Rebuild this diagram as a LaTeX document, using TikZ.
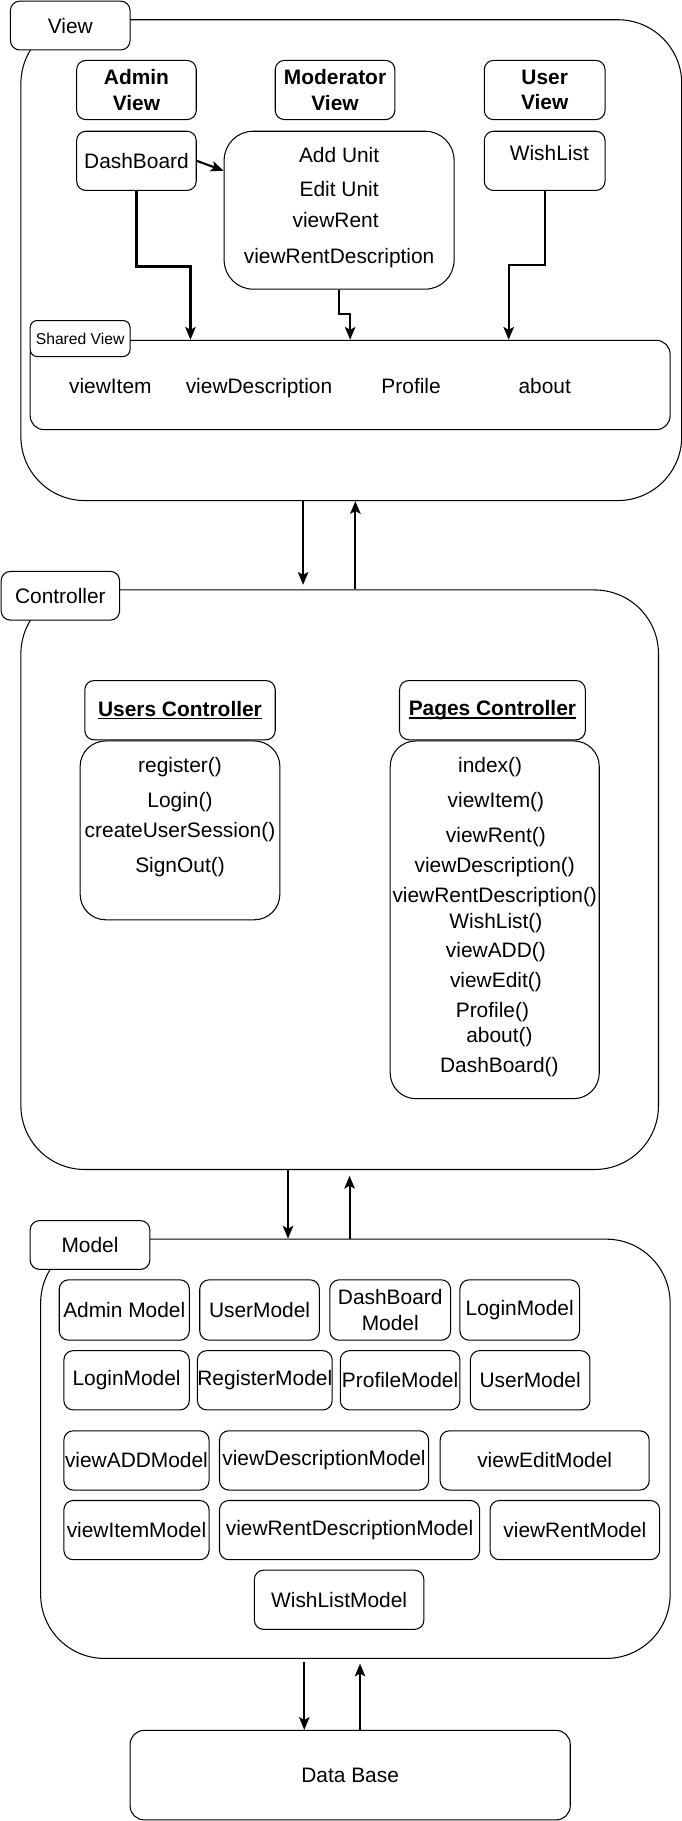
\documentclass[tikz,border=0pt]{standalone}
\usepackage{fontspec}
\setmainfont{Liberation Sans}
\usetikzlibrary{arrows.meta}
\newcommand\ulbf[1]{\setbox0\hbox{\bfseries #1}\rlap{\rule[-2.8pt]{\wd0}{1.3pt}}\box0}
\begin{document}
\begin{tikzpicture}[x=1pt,y=-1pt,
 box/.style={draw, line width=0.9pt, rounded corners=8pt, fill=white, inner sep=0pt, align=center, font=\fontsize{18}{22}\selectfont},
 hbox/.style={box, font=\fontsize{18}{22}\selectfont\bfseries},
 big/.style={draw, line width=0.9pt, rounded corners=55pt, inner sep=0pt},
 lbl/.style={inner sep=0pt, font=\fontsize{18}{22}\selectfont, text height=13pt, text depth=0pt},
 arr/.style={line width=1.8pt, -{Stealth[length=11pt,width=9pt,inset=2.5pt]}},
 sz/.style 2 args={minimum width=#1pt, minimum height=#2pt},
]
\useasboundingbox (0,0) rectangle (587,1568);

% ---------------- View ----------------
\node[big, sz={569}{414}] (viewc) at (302.5,224) {};
\node[box, sz={103}{42}] (viewtab) at (60.5,22) {View};
\node[hbox, sz={103}{51}] (admin) at (117.5,77.5) {Admin\\View};
\node[hbox, sz={103}{51}] (moder) at (288.5,77.5) {Moderator\\View};
\node[hbox, sz={104}{51}] (user) at (469,77.5) {User\\View};
\node[box, sz={103}{51}] (dash) at (117.5,138.5) {DashBoard};
\node[box, rounded corners=25pt, sz={198}{136}] (mod) at (292,181) {};
\node[lbl] (m1) at (292,133) {Add Unit};
\node[lbl] (m2) at (292,163) {Edit Unit};
\node[lbl] (m3) at (289,189) {viewRent};
\node[lbl] (m4) at (292,220) {viewRentDescription};
\node[box, sz={104}{51}] (wish) at (469,138.5) {};
\node[lbl] (wisht) at (473,132) {WishList};
\node[box, rounded corners=12pt, sz={551}{77}] (shared) at (301.5,331.5) {};
\node[box, rounded corners=6pt, sz={86}{31}, font=\fontsize{13.5}{16}\selectfont] (sharedtab) at (69,291.5) {Shared View};
\node[lbl] (s1) at (95,332) {viewItem};
\node[lbl] (s2) at (223,332) {viewDescription};
\node[lbl] (s3) at (354,332) {Profile};
\node[lbl] (s4) at (469,332) {about};

\draw[arr] (dash.east) -- ([yshift=34pt]mod.west);
\draw[arr] (dash.south) -- ++(0,65) -| ([xshift=-137.5pt]shared.north);
\draw[arr] (mod.south) -- ++(0,21) -| (shared.north);
\draw[arr] (wish.south) -- ++(0,64) -| ([xshift=136.5pt]shared.north);

% ---------------- Controller ----------------
\node[big, sz={549}{499}] (ctrl) at (292.5,757.5) {};
\node[box, sz={102}{42}] (ctrltab) at (52,513) {Controller};
\node[box, rounded corners=22pt, sz={172}{154}] (ubody) at (155,715) {};
\node[box, sz={164}{51}] (uhead) at (155,611.5) {\ulbf{Users Controller}};
\node[lbl] (u1) at (155,659) {register()};
\node[lbl] (u2) at (155,689) {Login()};
\node[lbl] (u3) at (155,715) {createUserSession()};
\node[lbl] (u4) at (155,745) {SignOut()};
\node[box, rounded corners=22pt, sz={180}{308}] (pbody) at (426,792) {};
\node[box, sz={160}{51}] (phead) at (424,611.5) {\ulbf{Pages Controller}};
\node[lbl] (p1) at (422,659) {index()};
\node[lbl] (p2) at (427,689) {viewItem()};
\node[lbl] (p3) at (427,719) {viewRent()};
\node[lbl] (p4) at (426,745) {viewDescription()};
\node[lbl] (p5) at (426,771) {viewRentDescription()};
\node[lbl] (p6) at (427,793) {WishList()};
\node[lbl] (p7) at (427,818) {viewADD()};
\node[lbl] (p8) at (427,844) {viewEdit()};
\node[lbl] (p9) at (424,870) {Profile()};
\node[lbl] (p10) at (430,891) {about()};
\node[lbl] (p11) at (430,917) {DashBoard()};

% ---------------- Model ----------------
\node[big, sz={542}{361}] (modelc) at (306,1247.5) {};
\node[box, sz={103}{42}] (modeltab) at (77.5,1072) {Model};
\node[box, sz={112}{52}] (a1) at (107,1128) {Admin Model};
\node[box, sz={103}{52}] (a2) at (223.5,1128) {UserModel};
\node[box, sz={104}{52}] (a3) at (336,1128) {DashBoard\\[1pt]Model};
\node[box, sz={103}{52}] (a4) at (447.5,1128) {LoginModel};
\node[box, sz={108}{51}] (b1) at (109,1188.5) {LoginModel};
\node[box, sz={112}{51}] (b2) at (228,1188.5) {RegisterModel};
\node[box, sz={103}{51}] (b3) at (344.5,1188.5) {ProfileModel};
\node[box, sz={103}{51}] (b4) at (456.5,1188.5) {UserModel};
\node[box, sz={125}{51}] (c1) at (117.5,1257.5) {viewADDModel};
\node[box, sz={180}{51}] (c2) at (279,1257.5) {viewDescriptionModel};
\node[box, sz={180}{51}] (c3) at (469,1257.5) {viewEditModel};
\node[box, sz={125}{51}] (d1) at (117.5,1317.5) {viewItemModel};
\node[box, sz={224}{51}] (d2) at (301,1317.5) {viewRentDescriptionModel};
\node[box, sz={146}{51}] (d3) at (495,1317.5) {viewRentModel};
\node[box, sz={146}{51}] (e1) at (292,1377.5) {WishListModel};

% ---------------- Data Base ----------------
\node[box, rounded corners=12pt, sz={379}{77}] (db) at (301.5,1528.5) {Data Base};

% ---------------- layer arrows ----------------
\draw[arr, shorten >=4pt] ([xshift=-41.5pt]viewc.south) -- ([xshift=-41.5pt]viewc.south |- ctrl.north);
\draw[arr] ([xshift=3.5pt]viewc.south |- ctrl.north) -- ([xshift=3.5pt]viewc.south);
\draw[arr] ([xshift=-44.5pt]ctrl.south) -- ([xshift=-44.5pt]ctrl.south |- modelc.north);
\draw[arr, shorten >=5pt] ([xshift=8.5pt]ctrl.south |- modelc.north) -- ([xshift=8.5pt]ctrl.south);
\draw[arr, shorten <=3pt] ([xshift=-44pt]modelc.south) -- ([xshift=-44pt]modelc.south |- db.north);
\draw[arr, shorten >=4pt] ([xshift=4pt]modelc.south |- db.north) -- ([xshift=4pt]modelc.south);
\end{tikzpicture}
\end{document}
